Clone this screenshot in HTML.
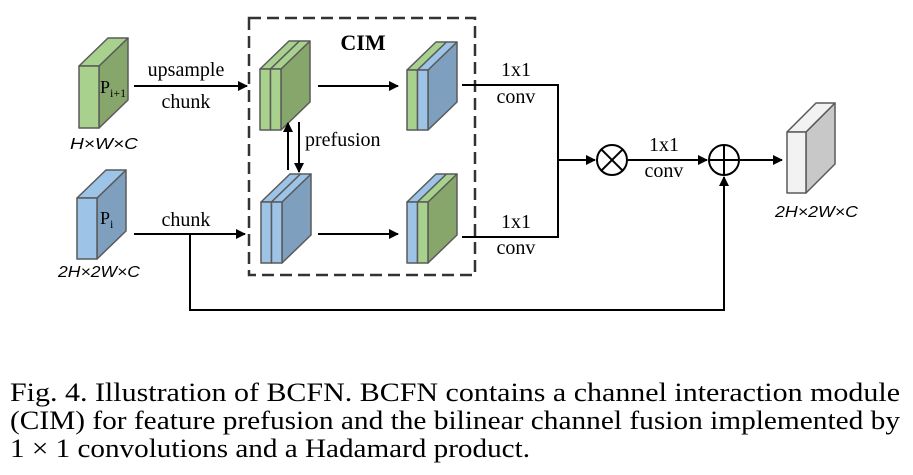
<!DOCTYPE html>
<html><head><meta charset="utf-8"><style>html,body{margin:0;padding:0;background:#fff;}svg{display:block}</style></head>
<body>
<svg width="913" height="475" viewBox="0 0 913 475" xmlns="http://www.w3.org/2000/svg">
<defs>
<marker id="ah" viewBox="0 0 10 10" refX="9" refY="5" markerWidth="10" markerHeight="10" markerUnits="userSpaceOnUse" orient="auto"><path d="M0,0 L10,5 L0,10 z" fill="#000"/></marker>
</defs>
<g stroke="#5a5a5a" stroke-width="1.5" stroke-linejoin="round">
<g transform="translate(79,66)">
<polygon points="20,0 49,-28 49,34 20,62" fill="#87a66c"/>
<polygon points="0,0 29,-28 49,-28 20,0" fill="#a9d18e"/>
<rect x="0" y="0" width="20" height="62" fill="#a9d18e"/>
</g>
<g transform="translate(77,198)">
<polygon points="20,0 49,-28 49,33 20,61" fill="#7f9fbf"/>
<polygon points="0,0 29,-28 49,-28 20,0" fill="#9dc3e6"/>
<rect x="0" y="0" width="20" height="61" fill="#9dc3e6"/>
</g>
<g transform="translate(260,69)">
<polygon points="21,0 50,-28 50,33 21,61" fill="#87a66c"/>
<polygon points="0,0 29,-28 39.5,-28 10.5,0" fill="#a9d18e"/>
<polygon points="10.5,0 39.5,-28 50,-28 21,0" fill="#a9d18e"/>
<rect x="0" y="0" width="10.5" height="61" fill="#a9d18e"/>
<rect x="10.5" y="0" width="10.5" height="61" fill="#a9d18e"/>
</g>
<g transform="translate(261,202)">
<polygon points="21,0 50,-28 50,33 21,61" fill="#7f9fbf"/>
<polygon points="0,0 29,-28 39.5,-28 10.5,0" fill="#9dc3e6"/>
<polygon points="10.5,0 39.5,-28 50,-28 21,0" fill="#9dc3e6"/>
<rect x="0" y="0" width="10.5" height="61" fill="#9dc3e6"/>
<rect x="10.5" y="0" width="10.5" height="61" fill="#9dc3e6"/>
</g>
<g transform="translate(407,70)">
<polygon points="21,0 50,-28 50,32 21,60" fill="#7f9fbf"/>
<polygon points="0,0 29,-28 39.5,-28 10.5,0" fill="#a9d18e"/>
<polygon points="10.5,0 39.5,-28 50,-28 21,0" fill="#9dc3e6"/>
<rect x="0" y="0" width="10.5" height="60" fill="#a9d18e"/>
<rect x="10.5" y="0" width="10.5" height="60" fill="#9dc3e6"/>
</g>
<g transform="translate(407,202)">
<polygon points="21,0 50,-28 50,33 21,61" fill="#87a66c"/>
<polygon points="0,0 29,-28 39.5,-28 10.5,0" fill="#9dc3e6"/>
<polygon points="10.5,0 39.5,-28 50,-28 21,0" fill="#a9d18e"/>
<rect x="0" y="0" width="10.5" height="61" fill="#9dc3e6"/>
<rect x="10.5" y="0" width="10.5" height="61" fill="#a9d18e"/>
</g>
<g transform="translate(787,132)">
<polygon points="19,0 48,-29 48,32 19,61" fill="#c8c8c8"/>
<polygon points="0,0 29,-29 48,-29 19,0" fill="#f2f2f2"/>
<rect x="0" y="0" width="19" height="61" fill="#f2f2f2"/>
</g>
</g>
<rect x="249" y="18" width="226" height="257" fill="none" stroke="#333" stroke-width="2.5" stroke-dasharray="12,6"/>
<g stroke="#000" stroke-width="2" fill="none">
<line x1="134" y1="86" x2="247" y2="86" marker-end="url(#ah)"/>
<line x1="134" y1="234" x2="245" y2="234" marker-end="url(#ah)"/>
<polyline points="190,234 190,310 724,310 724,177" marker-end="url(#ah)"/>
<line x1="318" y1="86" x2="398" y2="86" marker-end="url(#ah)"/>
<line x1="318" y1="234" x2="398" y2="234" marker-end="url(#ah)"/>
<line x1="288" y1="170" x2="288" y2="123" marker-end="url(#ah)"/>
<line x1="299" y1="122" x2="299" y2="172" marker-end="url(#ah)"/>
<polyline points="462,85 558,85 558,237 462,237"/>
<line x1="558" y1="160" x2="595" y2="160" marker-end="url(#ah)"/>
<line x1="628" y1="160" x2="707" y2="160" marker-end="url(#ah)"/>
<line x1="740" y1="160" x2="782" y2="160" marker-end="url(#ah)"/>
<circle cx="612" cy="160" r="15"/>
<line x1="601.4" y1="149.4" x2="622.6" y2="170.6"/>
<line x1="622.6" y1="149.4" x2="601.4" y2="170.6"/>
<circle cx="724" cy="160" r="15"/>
<line x1="709" y1="160" x2="739" y2="160"/>
<line x1="724" y1="145" x2="724" y2="175"/>
</g>
<g font-family="Liberation Serif, serif" font-size="20" fill="#000">
<text x="100" y="93" font-size="18">P<tspan font-size="12" dy="4">i+1</tspan></text>
<text x="100" y="224" font-size="18">P<tspan font-size="12" dy="4">i</tspan></text>
<text x="186" y="76" text-anchor="middle">upsample</text>
<text x="186" y="108" text-anchor="middle">chunk</text>
<text x="186" y="226" text-anchor="middle">chunk</text>
<text x="363" y="50" text-anchor="middle" font-weight="bold" font-size="22">CIM</text>
<text x="305" y="146">prefusion</text>
<text x="516" y="76" text-anchor="middle">1x1</text>
<text x="516" y="103" text-anchor="middle">conv</text>
<text x="516" y="228" text-anchor="middle">1x1</text>
<text x="516" y="254" text-anchor="middle">conv</text>
<text x="664" y="151" text-anchor="middle">1x1</text>
<text x="664" y="177" text-anchor="middle">conv</text>
</g>
<g font-family="Liberation Sans, sans-serif" font-size="16" font-style="italic" fill="#000">
<text x="70" y="149" textLength="68" lengthAdjust="spacingAndGlyphs">H×W×C</text>
<text x="58" y="277" textLength="82" lengthAdjust="spacingAndGlyphs">2H×2W×C</text>
<text x="775" y="217" textLength="83" lengthAdjust="spacingAndGlyphs">2H×2W×C</text>
</g>
<g font-family="Liberation Serif, serif" font-size="26" fill="#000">
<text x="10" y="401" textLength="890" lengthAdjust="spacingAndGlyphs">Fig. 4.  Illustration of BCFN. BCFN contains a channel interaction module</text>
<text x="10" y="429" textLength="890" lengthAdjust="spacingAndGlyphs">(CIM) for feature prefusion and the bilinear channel fusion implemented by</text>
<text x="10" y="457" textLength="520" lengthAdjust="spacingAndGlyphs">1 × 1 convolutions and a Hadamard product.</text>
</g>
</svg>
</body></html>
